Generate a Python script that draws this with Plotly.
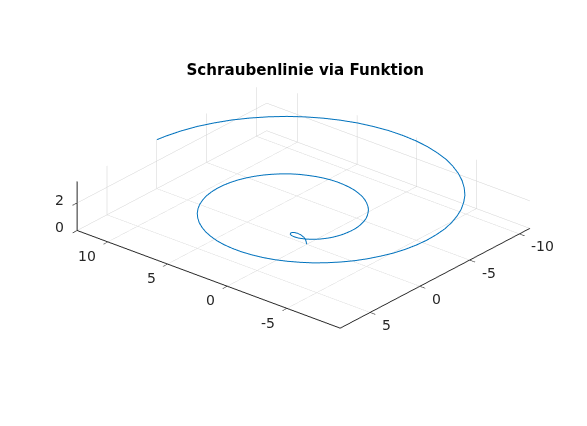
import plotly.graph_objects as go

TITLE = "Schraubenlinie via Funktion"
x_values = [0, .01, .04, .16, .34, .57, .84, 1.12, 1.38, 1.60, 1.75,
            1.82,1.81,1.78,1.72,1.62,1.50,1.34,1.15,.94,.69,.42,.13,-.19,-.52,-.87,-1.23,-1.59,-1.96,-2.33,-2.68,-3.03,-3.36,-3.66,-3.94,-4.19,-4.40,-4.57,-4.70,-4.78,-4.81,-4.79,-4.72,-4.59,-4.41,-4.17,-3.88,-3.54,-3.14,-2.69,-2.21,-1.68,-1.11,-.52,.11,.75,1.40,2.06,2.71,3.36,3.99,4.60,5.18,5.71,6.21,6.65,7.04,7.36,7.61,7.79,7.89,7.92,7.86,7.71,7.49,7.18,6.79,6.32,5.77,5.15,4.46,3.71,2.90,2.05,1.16,.23,-.71,-1.67,-2.64,-3.59,-4.53,-5.44,-6.31,-7.14,-7.91,-8.61,-9.24,-9.78,-10.25,-10.59,-10.86,-11.00,-11.04,-10.97,-10.77,-10.48,-10.07,-9.54,-8.92,-8.18,-7.35,-6.44,-5.44,-4.37,-3.24,-2.05,-.82,0]
y_values = [0, .10, .20, .37, .50, .56, .54, .43, .24, -.05, -.41,
            -.83,-1.06,-1.29,-1.53,-1.77,-2.00,-2.23,-2.44,-2.64,-2.82,-2.97,-3.10,-3.19,-3.26,-3.29,-3.28,-3.23,-3.14,-3.01,-2.83,-2.61,-2.36,-2.06,-1.72,-1.35,-.95,-.52,-.06,.42,.91,1.42,1.93,2.44,2.94,3.43,3.90,4.34,4.76,5.14,5.47,5.76,6.00,6.18,6.30,6.36,6.35,6.27,6.13,5.91,5.63,5.28,4.86,4.38,3.84,3.24,2.60,1.91,1.18,.42,-.36,-1.16,-1.97,-2.78,-3.58,-4.36,-5.12,-5.84,-6.51,-7.14,-7.70,-8.20,-8.62,-8.97,-9.23,-9.40,-9.47,-9.45,-9.34,-9.12,-8.80,-8.39,-7.88,-7.29,-6.59,-5.83,-4.99,-4.08,-3.13,-2.10,-1.04,.05,1.16,2.27,3.43,4.49,5.56,6.59,7.58,8.50,9.36,10.13,10.81,11.39,11.87,12.23,12.47,12.57]
z_values = [0, .32, .45, .63, .77, .89, 1.00, 1.10, 1.18, 1.26, 1.34,
            1.41,1.45,1.48,1.52,1.55,1.58,1.61,1.64,1.67,1.70,1.73,1.76,1.79,1.82,1.84,1.87,1.90,1.92,1.95,1.97,2.00,2.02,2.05,2.07,2.10,2.12,2.14,2.17,2.19,2.21,2.24,2.26,2.28,2.30,2.32,2.35,2.37,2.39,2.41,2.43,2.45,2.47,2.49,2.51,2.53,2.55,2.57,2.59,2.61,2.63,2.65,2.66,2.68,2.70,2.72,2.74,2.76,2.77,2.79,2.81,2.83,2.85,2.86,2.88,2.90,2.92,2.93,2.95,2.97,2.98,3.00,3.02,3.03,3.05,3.07,3.08,3.10,3.11,3.13,3.15,3.16,3.18,3.19,3.21,3.22,3.24,3.26,3.27,3.29,3.30,3.32,3.33,3.35,3.36,3.38,3.39,3.41,3.42,3.44,3.45,3.46,3.48,3.49,3.51,3.52,3.54,3.55]
x_ticks = [-10, -5, 0, 5]
y_ticks = [-5, 0, 5, 10]
z_ticks = [0, 2]
x_range = [8, -11.05]
y_range = [-9.47, 12.57]
z_range = [0, 3.55]

assert len(x_values) == len(y_values) == len(z_values), (len(x_values), len(y_values), len(z_values))

INK = "#262626"
GRID = "#d2d2d2"
TICK_FONT = dict(family="DejaVu Sans", size=14, color=INK)


def axis(rng, ticks):
    return dict(
        range=rng, tickmode="array", tickvals=ticks, ticktext=[str(t) for t in ticks],
        showgrid=True, gridcolor=GRID, gridwidth=1, zeroline=False, showbackground=False,
        showline=True, linecolor=INK, linewidth=2, ticks="outside", ticklen=7, tickcolor=INK, tickwidth=1.5,
        showticklabels=False, showspikes=False, title=dict(text=""),
    )


labels = []
for t in x_ticks:
    labels.append(dict(x=t, y=y_range[0], z=0, text=str(t), showarrow=False, font=TICK_FONT,
                       xanchor="left", yanchor="middle", xshift=10, yshift=-12.5))
for t in y_ticks:
    labels.append(dict(x=x_range[0], y=t, z=0, text=str(t), showarrow=False, font=TICK_FONT,
                       xanchor="right", yanchor="middle", xshift=-10, yshift=-14.2))
for t in z_ticks:
    labels.append(dict(x=x_range[0], y=y_range[1], z=t, text=str(t), showarrow=False, font=TICK_FONT,
                       xanchor="right", yanchor="middle", xshift=-11.5, yshift=3.4))

fig = go.Figure(go.Scatter3d(
    x=x_values, y=y_values, z=z_values, mode="lines",
    line=dict(color="#0072BD", width=2), hoverinfo="skip", showlegend=False,
))
fig.update_layout(
    width=587, height=426, margin=dict(l=20, r=0, t=0, b=16),
    paper_bgcolor="white", showlegend=False,
    title=dict(text="<b>" + TITLE + "</b>", x=0.52, xanchor="center", y=0.836, yanchor="middle",
               font=dict(family="DejaVu Sans", size=15.1, color="black")),
    scene=dict(
        xaxis=axis(x_range, x_ticks),
        yaxis=axis(y_range, y_ticks),
        zaxis=axis(z_range, z_ticks),
        aspectmode="manual",
        aspectratio=dict(x=1.438, y=1.676, z=0.266),
        camera=dict(projection=dict(type="orthographic"),
                    up=dict(x=0, y=0, z=1),
                    center=dict(x=0, y=0, z=0),
                    eye=dict(x=-0.687, y=-0.577, z=0.442)),
        annotations=labels,
    ),
)
fig.write_html("out.html", config=dict(displayModeBar=False), post_script="document.body.style.margin='0';")
